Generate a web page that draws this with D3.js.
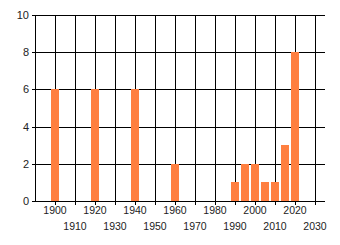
<!DOCTYPE html>
<html><head><meta charset="utf-8">
<script src="https://cdn.jsdelivr.net/npm/d3@7"></script>
<style>html,body{margin:0;padding:0;background:#fff;}svg{display:block;}</style>
</head><body>
<script>
const years = [1900, 1920, 1940, 1960, 1990, 1995, 2000, 2005, 2010, 2015, 2020];
const counts = [6, 6, 6, 2, 1, 2, 2, 1, 1, 3, 8];
const xTickLabels = [1900, 1910, 1920, 1930, 1940, 1950, 1960, 1970, 1980, 1990, 2000, 2010, 2020, 2030];
const yTickLabels = [0, 2, 4, 6, 8, 10];

const W = 340, H = 245;
const svg = d3.select("body").append("svg").attr("width", W).attr("height", H);
const x = d3.scaleLinear().domain([1890, 2035]).range([35, 325]);
const y = d3.scaleLinear().domain([0, 10]).range([201, 15]);
const font = "'Liberation Sans', Arial, sans-serif";

const g = svg.append("g").attr("stroke", "#000").attr("stroke-width", 1).attr("shape-rendering", "crispEdges");
// horizontal grid
g.selectAll("line.h").data(yTickLabels).join("line").attr("class", "h")
  .attr("x1", 32).attr("x2", 325)
  .attr("y1", (d) => Math.round(y(d)) + 0.5).attr("y2", (d) => Math.round(y(d)) + 0.5);
// vertical grid
g.selectAll("line.v").data(xTickLabels).join("line").attr("class", "v")
  .attr("x1", (d) => Math.round(x(d)) + 0.5).attr("x2", (d) => Math.round(x(d)) + 0.5)
  .attr("y1", y(10)).attr("y2", y(0) + 4);
// left axis
g.append("line").attr("x1", x(1890) + 0.5).attr("x2", x(1890) + 0.5).attr("y1", y(10)).attr("y2", y(0) + 1);

// bars (on top of grid)
svg.append("g").attr("shape-rendering", "crispEdges").selectAll("rect").data(years).join("rect")
  .attr("x", (d) => x(d - 2)).attr("width", (d) => x(d + 2) - x(d - 2))
  .attr("y", (d, i) => y(counts[i])).attr("height", (d, i) => y(0) - y(counts[i]))
  .attr("fill", "#ff7f40");

// y labels
svg.append("g").selectAll("text").data(yTickLabels).join("text")
  .attr("x", 29).attr("y", (d) => y(d) + 4)
  .attr("text-anchor", "end").attr("font-family", font).attr("font-size", 11).attr("fill", "#222")
  .text((d) => d);

// x labels (staggered)
svg.append("g").selectAll("text").data(xTickLabels).join("text")
  .attr("x", (d) => x(d)).attr("y", (d, i) => (i % 2 === 0 ? 214 : 230))
  .attr("text-anchor", "middle").attr("font-family", font).attr("font-size", 10.5).attr("fill", "#222")
  .text((d) => d);
</script>
</body></html>
